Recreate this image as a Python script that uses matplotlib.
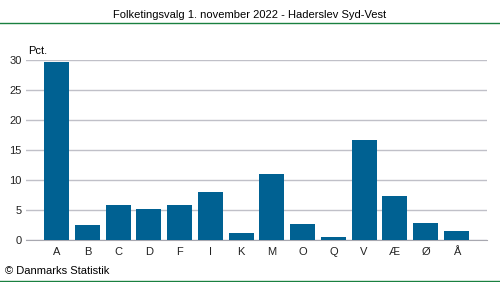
import matplotlib.pyplot as plt
import numpy as np

# data
parties = ['A', 'B', 'C', 'D', 'F', 'I', 'K', 'M', 'O', 'Q', 'V', 'Æ', 'Ø', 'Å']
pct = [29.7, 2.5, 5.8, 5.2, 5.8, 8.0, 1.2, 11.0, 2.7, 0.5, 16.7, 7.3, 2.8, 1.5]
yticks = [0, 5, 10, 15, 20, 25, 30]

plt.rcParams['font.family'] = ['Liberation Sans', 'DejaVu Sans']

W, H = 500, 282
fig = plt.figure(figsize=(W / 100, H / 100), dpi=100)

# plot area in pixel coords: x 26..487, y 60 (=30) .. 240 (=0)
ax = fig.add_axes([26 / W, 1 - 240 / H, (487 - 26) / W, 180 / H])
x = np.arange(len(parties))
ax.bar(x, pct, width=0.81, color='#006192', zorder=3)
ax.set_xlim(-1, len(parties))
ax.set_ylim(0, 30)
ax.set_yticks(yticks)
ax.set_xticks(x)
ax.set_xticklabels(parties)
ax.grid(axis='y', color='#c0c0c8', linewidth=1, zorder=0)
for s in ['top', 'right', 'left']:
    ax.spines[s].set_visible(False)
ax.spines['bottom'].set_color('#a8a8b0')
ax.tick_params(axis='both', length=0, labelsize=8, colors='#222222')
ax.tick_params(axis='x', pad=5)
ax.tick_params(axis='y', pad=3)

# title, unit, source
fig.text(250 / W, 1 - 15 / H, 'Folketingsvalg 1. november 2022 - Haderslev Syd-Vest',
         ha='center', va='center', fontsize=8)
fig.text(28 / W, 1 - 51 / H, 'Pct.', ha='left', va='center', fontsize=8)
fig.text(5 / W, 1 - 271 / H, '© Danmarks Statistik', ha='left', va='center', fontsize=8)

# green rules top and bottom
fig.add_artist(plt.Line2D([0, 1], [1 - 22.5 / H, 1 - 22.5 / H], color='#1a8040', linewidth=1))
fig.add_artist(plt.Line2D([0, 1], [1 - 281 / H, 1 - 281 / H], color='#1a8040', linewidth=1))

fig.savefig('out.png', dpi=100)
